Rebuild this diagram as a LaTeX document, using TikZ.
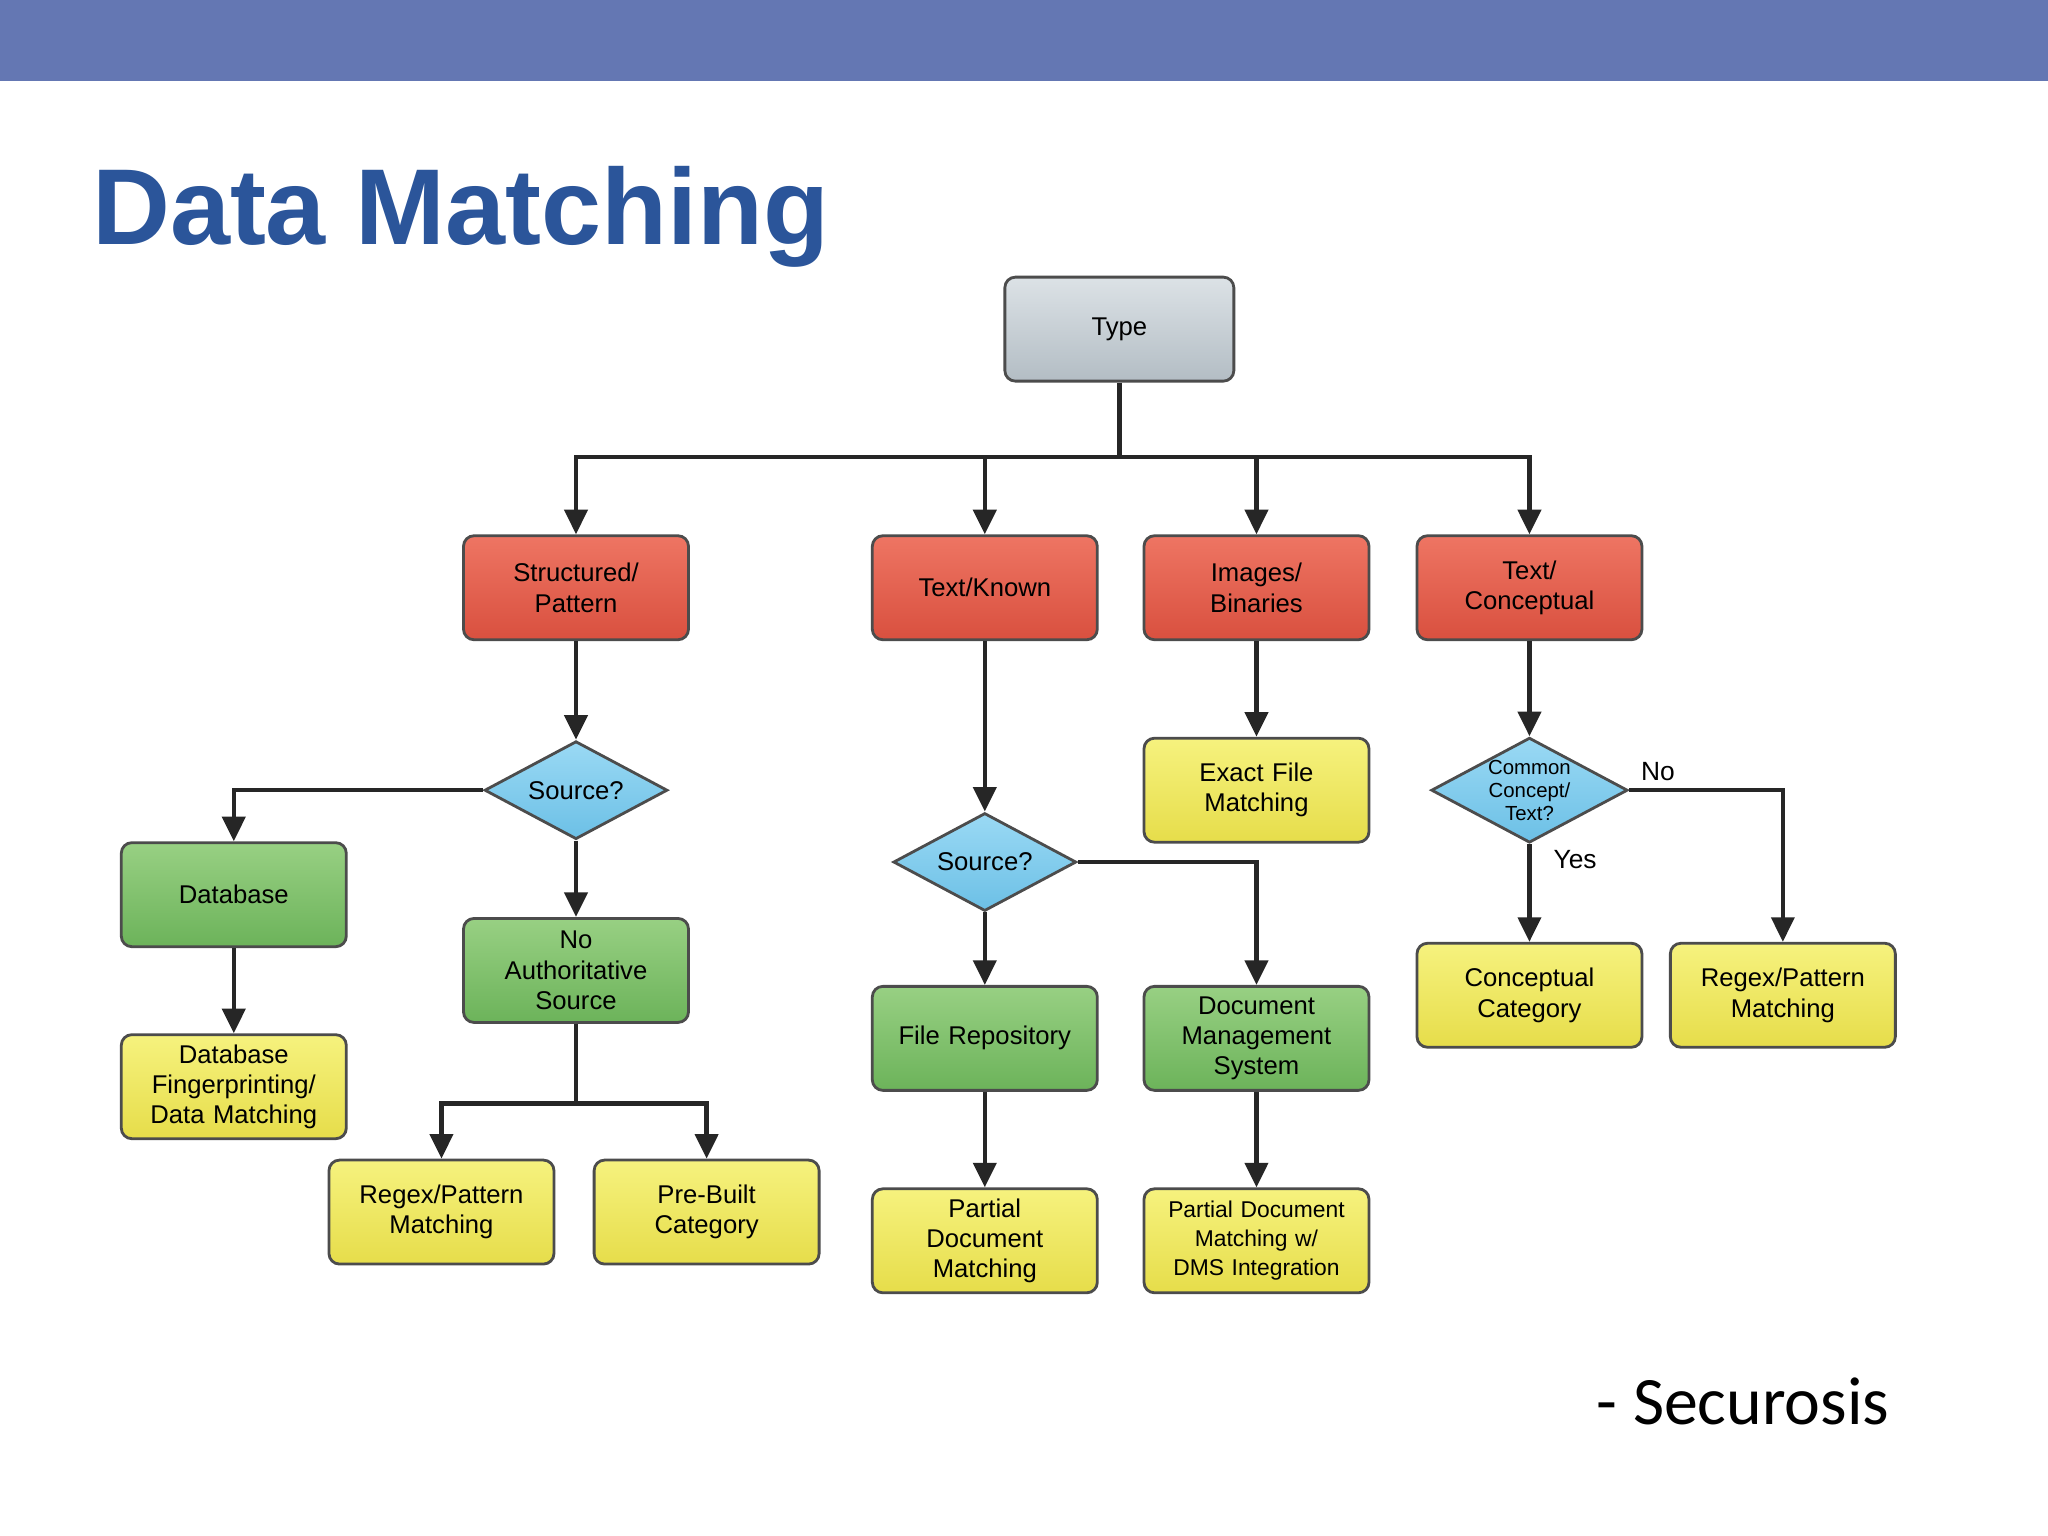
\documentclass[tikz,border=0pt]{standalone}
\usepackage{fontspec}
\setmainfont{Liberation Sans}
\newfontfamily\calib{Carlito}
\usetikzlibrary{shapes.geometric,arrows.meta}
\definecolor{banner}{HTML}{6477B3}
\definecolor{ttl}{HTML}{2B559A}
\definecolor{redA}{HTML}{EE7563}\definecolor{redB}{HTML}{D9503F}
\definecolor{grnA}{HTML}{98D083}\definecolor{grnB}{HTML}{6CB35A}
\definecolor{yelA}{HTML}{F6F27E}\definecolor{yelB}{HTML}{E6DD4A}
\definecolor{bluA}{HTML}{9AD9F4}\definecolor{bluB}{HTML}{6CC0E6}
\definecolor{gryA}{HTML}{DCE2E6}\definecolor{gryB}{HTML}{B3BDC4}
\tikzset{
 box/.style={draw=black!70,line width=0.8pt,rounded corners=3pt,minimum width=2.25cm,minimum height=1.04cm,inner sep=1pt,align=center,font=\fontsize{7.3}{8.6}\selectfont,text width=2.15cm},
 red/.style={box,top color=redA,bottom color=redB},
 grn/.style={box,top color=grnA,bottom color=grnB},
 yel/.style={box,top color=yelA,bottom color=yelB},
 dia/.style={diamond,draw=black!70,line width=0.8pt,top color=bluA,bottom color=bluB,minimum width=1.83cm,minimum height=0.98cm,aspect=1.87,inner sep=0pt,align=center,font=\fontsize{7.3}{8.6}\selectfont},
 ln/.style={line width=1.3pt,draw=black!85},
 arr/.style={ln,-{Triangle[length=7pt,width=6.5pt]}},
 lbl/.style={font=\fontsize{7.5}{9}\selectfont}
}
\begin{document}
\begin{tikzpicture}[x=0.01306cm,y=-0.01306cm]
\useasboundingbox (0,0) rectangle (1568,1176);
\fill[white] (0,0) rectangle (1568,1176);
\fill[banner] (0,0) rectangle (1568,62);
\node[anchor=west,text=ttl,font=\fontsize{30.7}{33}\bfseries\selectfont,inner sep=0] (title) at (70,166) {Data Matching};
\node[anchor=east,font=\calib\fontsize{19.3}{21}\selectfont,inner sep=0] (src) at (1447,1073) {- Securosis};

\node[box,top color=gryA,bottom color=gryB,minimum width=2.29cm] (type) at (857,252) {Type};
\node[red] (sp) at (441,450) {Structured/\\Pattern};
\node[red] (tk) at (754,450) {Text/Known};
\node[red] (ib) at (962,450) {Images/\\Binaries};
\node[red] (tc) at (1171,450) {Text/\\Conceptual};

\node[dia] (s1) at (441,605) {Source?};
\node[grn] (db) at (179,685) {Database};
\node[yel] (dbf) at (179,832) {Database\\Fingerprinting/\\Data Matching};
\node[grn] (na) at (441,743) {No\\Authoritative\\Source};
\node[yel] (rx1) at (338,928) {Regex/Pattern\\Matching};
\node[yel] (pb) at (541,928) {Pre-Built\\Category};

\node[dia] (s2) at (754,660) {Source?};
\node[grn] (fr) at (754,795) {File Repository};
\node[grn] (dms) at (962,795) {Document\\Management\\System};
\node[yel] (pdm) at (754,950) {Partial\\Document\\Matching};
\node[yel,font=\fontsize{6.5}{8.2}\selectfont] (pdd) at (962,950) {Partial Document\\Matching w/\\DMS Integration};

\node[yel] (ef) at (962,605) {Exact File\\Matching};

\node[dia,font=\fontsize{5.8}{6.6}\selectfont] (cc) at (1171,605) {Common\\Concept/\\Text?};
\node[yel] (cat) at (1171,762) {Conceptual\\Category};
\node[yel] (rx2) at (1365,762) {Regex/Pattern\\Matching};

\coordinate (bus) at (857,350);
\draw[ln] (type.south) -- (bus);
\draw[arr] (bus) -| (sp.north);
\draw[arr] (bus) -| (tk.north);
\draw[arr] (bus) -| (ib.north);
\draw[arr] (bus) -| (tc.north);

\draw[arr] (sp.south) -- (s1.north);
\draw[arr] (s1.west) -| (db.north);
\draw[arr] (db.south) -- (dbf.north);
\draw[arr] (s1.south) -- (na.north);
\coordinate (br) at (441,845);
\draw[ln] (na.south) -- (br);
\draw[arr] (br) -| (rx1.north);
\draw[arr] (br) -| (pb.north);

\draw[arr] (tk.south) -- (s2.north);
\draw[arr] (s2.south) -- (fr.north);
\draw[arr] (s2.east) -| (dms.north);
\draw[arr] (fr.south) -- (pdm.north);
\draw[arr] (dms.south) -- (pdd.north);

\draw[arr] (ib.south) -- (ef.north);

\draw[arr] (tc.south) -- (cc.north);
\draw[arr] (cc.south) -- (cat.north);
\draw[arr] (cc.east) -| (rx2.north);
\node[lbl,anchor=west] (no) at (1247,591) {No};
\node[lbl,anchor=west] (yes) at (1180,658) {Yes};
\end{tikzpicture}
\end{document}
